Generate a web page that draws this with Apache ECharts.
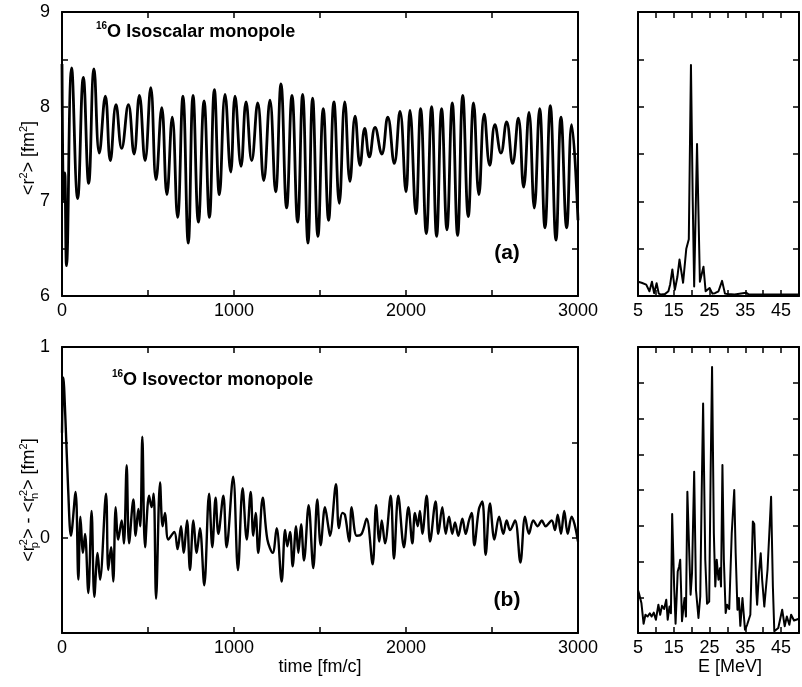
<!DOCTYPE html>
<html>
<head>
<meta charset="utf-8">
<script src="https://cdn.jsdelivr.net/npm/echarts@6/dist/echarts.min.js"></script>
<style>
  html, body { margin: 0; padding: 0; background: #fff; }
  #chart { width: 802px; height: 687px; }
</style>
</head>
<body>
<div id="chart"></div>
<script>
// (a) isoscalar monopole: time [fm/c] and <r^2> [fm^2] at the turning points of the oscillation
const isoscalarTime = [0, 10, 16, 26, 56, 91, 124, 155, 186, 217, 252, 281, 314, 347, 386, 419, 450, 483, 516, 547,
  580, 610, 641, 672, 703, 734, 762, 793, 826, 857, 886, 915, 948, 981, 1006, 1041, 1070, 1103, 1138, 1173,
  1209, 1242, 1273, 1306, 1337, 1370, 1399, 1430, 1457, 1488, 1519, 1550, 1581, 1612, 1644, 1674, 1704, 1733,
  1760, 1787, 1820, 1859, 1894, 1932, 1965, 2000, 2023, 2058, 2085, 2118, 2149, 2178, 2207, 2238, 2269, 2300,
  2330, 2362, 2393, 2424, 2455, 2487, 2517, 2552, 2585, 2620, 2653, 2684, 2715, 2746, 2777, 2808, 2839, 2872,
  2901, 2934, 2963, 3000];
const isoscalarR2 = [8.45, 7.0, 7.3, 6.32, 8.41, 7.03, 8.31, 7.19, 8.40, 7.51, 8.11, 7.43, 8.02, 7.56, 8.02, 7.50, 8.12, 7.43, 8.20, 7.23,
  7.99, 7.07, 7.89, 6.83, 8.11, 6.56, 8.12, 6.78, 8.06, 6.83, 8.18, 7.07, 8.13, 7.31, 8.11, 7.37, 8.05, 7.43, 8.04, 7.22,
  8.07, 7.10, 8.24, 6.93, 8.12, 6.78, 8.13, 6.56, 8.09, 6.63, 7.98, 6.80, 8.05, 6.98, 8.05, 7.21, 7.90, 7.38,
  7.77, 7.47, 7.78, 7.50, 7.89, 7.40, 7.95, 7.10, 7.96, 6.87, 7.98, 6.66, 8.00, 6.63, 7.98, 6.70, 8.04, 6.64,
  8.12, 6.84, 8.04, 7.07, 7.92, 7.38, 7.81, 7.51, 7.84, 7.40, 7.88, 7.15, 7.94, 6.93, 7.98, 6.72, 8.01, 6.59,
  7.89, 6.72, 7.81, 6.80];

// (b) isovector monopole: time [fm/c] and <r_p^2> - <r_n^2> [fm^2]
const isovectorTime = [0, 8, 20, 36, 52, 79, 95, 107, 122, 134, 153, 172, 188, 207, 221, 256, 269, 285, 298, 312,
  327, 347, 360, 376, 390, 415, 428, 444, 455, 467, 483, 506, 521, 533, 547, 570, 585, 599, 618, 653,
  672, 692, 707, 727, 744, 764, 783, 802, 827, 855, 874, 893, 909, 938, 957, 995, 1023, 1050, 1074, 1097,
  1112, 1126, 1141, 1167, 1194, 1225, 1248, 1277, 1297, 1310, 1326, 1341, 1361, 1374, 1390, 1407, 1434, 1461, 1484, 1504,
  1529, 1548, 1558, 1593, 1610, 1630, 1645, 1670, 1684, 1713, 1742, 1771, 1806, 1826, 1845, 1859, 1878, 1911, 1930, 1955,
  1988, 2014, 2037, 2052, 2068, 2081, 2095, 2120, 2140, 2172, 2188, 2211, 2231, 2250, 2269, 2285, 2304, 2328, 2347, 2366,
  2382, 2397, 2424, 2444, 2463, 2488, 2514, 2541, 2566, 2585, 2605, 2634, 2665, 2692, 2715, 2740, 2766, 2789, 2812, 2847,
  2866, 2882, 2901, 2920, 2940, 2963, 2980, 3000];
const isovectorDiff = [0.55, 0.84, 0.62, 0.25, 0.01, 0.24, -0.22, 0.11, -0.08, 0.02, -0.29, 0.14, -0.31, -0.08, -0.22, 0.23, -0.17, -0.05, -0.23, 0.16,
  -0.01, 0.09, -0.03, 0.38, -0.03, 0.20, 0.01, 0.15, 0.06, 0.53, -0.05, 0.22, 0.16, 0.23, -0.32, 0.29, 0.06, 0.13, -0.01, 0.03,
  -0.06, 0.06, -0.08, 0.09, -0.17, 0.09, -0.08, 0.05, -0.25, 0.23, -0.05, 0.21, 0.02, 0.22, -0.05, 0.32, -0.17, 0.26, -0.01, 0.24,
  0.01, 0.13, -0.08, 0.21, -0.01, -0.08, 0.05, -0.23, 0.04, -0.045, 0.03, -0.15, 0.06, -0.08, 0.07, -0.12, 0.17, -0.16, 0.20, -0.04,
  0.16, 0.06, 0.01, 0.28, 0.05, 0.13, 0.12, -0.02, 0.16, 0.01, 0.02, 0.10, -0.14, 0.17, -0.02, 0.09, -0.03, 0.22, -0.11, 0.22,
  -0.05, 0.16, -0.03, 0.13, 0.06, 0.14, 0.02, 0.22, -0.02, 0.19, 0.02, 0.16, 0.02, 0.11, 0.02, 0.08, 0.01, 0.10, 0.02, 0.09,
  0.13, -0.04, 0.15, 0.19, -0.09, 0.18, -0.01, 0.11, 0.02, 0.09, 0.04, 0.09, -0.13, 0.11, 0.02, 0.09, 0.06, 0.09, 0.06, 0.09,
  0.04, 0.12, 0.02, 0.14, 0.02, 0.11, 0.07, -0.02];

// Strength functions of the two modes: energy [MeV] and strength (arb. units)
const isoscalarE = [5.0, 6.0, 7.3, 8.2, 8.9, 9.5, 10.2, 10.8, 11.5, 12.5, 13.5, 14.0, 14.6, 15.3, 16.0, 16.6, 17.6, 18.5, 19.2, 19.8,
  20.3, 20.7, 21.5, 22.3, 23.3, 23.9, 25.0, 25.8, 26.5, 27.5, 28.5, 29.3, 30.0, 32.0, 35.2, 36.0, 39.5, 40.0, 40.5, 44.0, 50.0];
const isoscalarStrength = [0.30, 0.28, 0.24, 0.10, 0.30, 0.06, 0.27, 0.05, 0.03, 0.04, 0.10, 0.25, 0.56, 0.13, 0.40, 0.77, 0.28, 1.00, 1.20, 4.88,
  2.00, 0.20, 3.21, 0.30, 0.62, 0.10, 0.17, 0.05, 0.06, 0.10, 0.32, 0.05, 0.04, 0.03, 0.07, 0.03, 0.03, 0.06, 0.03, 0.03, 0.03];

const isovectorE = [5.0, 5.25, 5.95, 6.56, 7.08, 7.69, 8.3, 8.8, 9.4, 10.0, 10.7, 11.2, 11.7, 12.3, 12.9, 13.3, 13.8, 14.2, 14.55, 15.1,
  15.5, 16.1, 16.5, 16.8, 17.3, 18.0, 18.4, 18.8, 19.3, 19.7, 20.1, 20.7, 21.2, 21.9, 22.4, 22.8, 23.2, 23.8, 24.3, 24.9,
  25.3, 25.7, 26.2, 26.6, 27.0, 27.5, 27.9, 28.2, 28.6, 29.0, 29.5, 29.9, 30.5, 31.2, 31.9, 32.3, 32.8, 33.2, 33.6, 34.2,
  34.9, 35.5, 36.4, 37.1, 37.5, 38.1, 38.3, 38.8, 39.3, 39.7, 40.3, 41.2, 42.2, 42.7, 43.1, 44.2, 45.3, 46.0, 46.6, 47.3,
  47.8, 48.6, 50.0];
const isovectorStrength = [1.20, 1.12, 0.84, 0.26, 0.51, 0.46, 0.55, 0.46, 0.57, 0.37, 0.79, 0.51, 0.76, 0.67, 0.93, 0.37, 0.74, 0.55, 3.33, 1.30,
  0.26, 1.72, 1.86, 2.05, 0.33, 0.98, 0.46, 3.95, 2.32, 1.07, 1.67, 4.51, 1.21, 0.42, 1.02, 3.91, 6.42, 2.05, 0.82, 0.88,
  4.46, 7.44, 2.79, 1.30, 2.05, 1.49, 1.81, 1.30, 4.70, 2.05, 0.56, 0.79, 0.67, 2.79, 4.00, 2.23, 0.65, 0.98, 0.20, 0.98,
  0.09, 0.23, 0.51, 3.12, 3.05, 1.12, 0.79, 1.67, 2.23, 1.49, 0.74, 1.77, 3.81, 1.30, 0.05, 0.14, 0.65, 0.19, 0.46, 0.23,
  0.51, 0.35, 0.40];

// Axis tick values that carry a label
const timeTicks = [0, 1000, 2000, 3000];
const energyTickLabels = [5, 15, 25, 35, 45];
const isoscalarTicks = [6, 7, 8, 9];
const isovectorTickLabels = [0, 1];

const FONT = '"Liberation Sans", Arial, Helvetica, sans-serif';
const INK = '#000';

const zip = (xs, ys) => xs.map((x, i) => [x, ys[i]]);

const grids = [
  { left: 62, top: 12, width: 516, height: 284 },
  { left: 638, top: 12, width: 173, height: 284 },
  { left: 62, top: 347, width: 516, height: 286 },
  { left: 638, top: 347, width: 173, height: 286 }
];

function frameAxis(gridIndex, position, range, interval, extra) {
  return Object.assign({
    type: 'value',
    gridIndex: gridIndex,
    position: position,
    min: range[0],
    max: range[1],
    interval: interval,
    axisLine: { show: true, onZero: false, lineStyle: { color: INK, width: 2 } },
    axisTick: { show: true, inside: true, length: 6, lineStyle: { color: INK, width: 1.5 } },
    splitLine: { show: false },
    axisLabel: { show: false }
  }, extra || {});
}

const labelStyle = { color: INK, fontFamily: FONT, fontSize: 18 };

const xAxes = [
  frameAxis(0, 'bottom', [0, 3000], 500, {
    axisLabel: Object.assign({ show: true, margin: 6, formatter: v => timeTicks.includes(v) ? String(v) : '' }, labelStyle)
  }),
  frameAxis(1, 'bottom', [5, 50], 5, {
    axisLabel: Object.assign({ show: true, margin: 6, formatter: v => energyTickLabels.includes(v) ? String(v) : '' }, labelStyle)
  }),
  frameAxis(2, 'bottom', [0, 3000], 500, {
    axisLabel: Object.assign({ show: true, margin: 6, formatter: v => timeTicks.includes(v) ? String(v) : '' }, labelStyle)
  }),
  frameAxis(3, 'bottom', [5, 50], 5, {
    axisLabel: Object.assign({ show: true, margin: 6, formatter: v => energyTickLabels.includes(v) ? String(v) : '' }, labelStyle)
  }),
  frameAxis(0, 'top', [0, 3000], 500),
  frameAxis(1, 'top', [5, 50], 5),
  frameAxis(2, 'top', [0, 3000], 500),
  frameAxis(3, 'top', [5, 50], 5)
];

const yAxes = [
  frameAxis(0, 'left', [6, 9], 0.5, {
    axisLabel: Object.assign({ show: true, margin: 12, formatter: v => isoscalarTicks.includes(v) ? String(v) : '' }, labelStyle)
  }),
  frameAxis(1, 'left', [0, 6], 1),
  frameAxis(2, 'left', [-0.5, 1], 0.5, {
    axisLabel: Object.assign({ show: true, margin: 12, formatter: v => isovectorTickLabels.includes(v) ? String(v) : '' }, labelStyle)
  }),
  frameAxis(3, 'left', [0, 8], 1),
  frameAxis(0, 'right', [6, 9], 0.5),
  frameAxis(1, 'right', [0, 6], 1),
  frameAxis(2, 'right', [-0.5, 1], 0.5),
  frameAxis(3, 'right', [0, 8], 1)
];

function trace(index, data, width, smooth) {
  return {
    type: 'line',
    xAxisIndex: index,
    yAxisIndex: index,
    data: data,
    showSymbol: false,
    smooth: smooth,
    clip: true,
    silent: true,
    lineStyle: { color: INK, width: width, join: 'round' },
    animation: false
  };
}

const series = [
  trace(0, zip(isoscalarTime, isoscalarR2), 2.8, 0.45),
  trace(1, zip(isoscalarE, isoscalarStrength), 2, false),
  trace(2, zip(isovectorTime, isovectorDiff), 2.4, 0.35),
  trace(3, zip(isovectorE, isovectorStrength), 2, false)
];

const richBase = {
  m: { fontFamily: FONT, fontSize: 18, color: INK, lineHeight: 22, verticalAlign: 'middle' },
  s: { fontFamily: FONT, fontSize: 11, color: INK, lineHeight: 22, verticalAlign: 'top' },
  sub: { fontFamily: FONT, fontSize: 11, color: INK, lineHeight: 22, verticalAlign: 'bottom', width: 0 },
  sup: { fontFamily: FONT, fontSize: 11, color: INK, lineHeight: 22, verticalAlign: 'top' },
  bm: { fontFamily: FONT, fontSize: 18, fontWeight: 'bold', color: INK, lineHeight: 22, verticalAlign: 'middle' },
  bl: { fontFamily: FONT, fontSize: 21, fontWeight: 'bold', color: INK, lineHeight: 24, verticalAlign: 'middle' },
  bs: { fontFamily: FONT, fontSize: 10, fontWeight: 'bold', color: INK, lineHeight: 22, verticalAlign: 'top' }
};

function text(x, y, str, opts) {
  return Object.assign({
    type: 'text',
    x: x,
    y: y,
    silent: true,
    style: Object.assign({
      text: str,
      rich: richBase,
      fill: INK,
      font: '18px ' + FONT,
      align: 'center',
      verticalAlign: 'middle'
    }, (opts && opts.style) || {})
  }, (opts && opts.el) || {});
}

const graphic = [
  text(96, 32, '{bs|16}{bm|O Isoscalar monopole}', { style: { align: 'left' } }),
  text(112, 380, '{bs|16}{bm|O Isovector monopole}', { style: { align: 'left' } }),
  text(507, 253, '{bl|(a)}'),
  text(507, 600, '{bl|(b)}'),
  text(320, 667, '{m|time [fm/c]}'),
  text(730, 667, '{m|E [MeV]}'),
  text(29, 158, '{m|<r}{s|2}{m|> [fm}{s|2}{m|]}', { el: { rotation: Math.PI / 2 } }),
  text(29, 500, '{m|<r}{sub|p}{sup|2}{m|> - <r}{sub|n}{sup|2}{m|> [fm}{s|2}{m|]}', { el: { rotation: Math.PI / 2 } })
];

const chart = echarts.init(document.getElementById('chart'), null, { renderer: 'canvas' });
chart.setOption({
  backgroundColor: '#fff',
  animation: false,
  grid: grids,
  xAxis: xAxes,
  yAxis: yAxes,
  series: series,
  graphic: graphic
});
</script>
</body>
</html>
